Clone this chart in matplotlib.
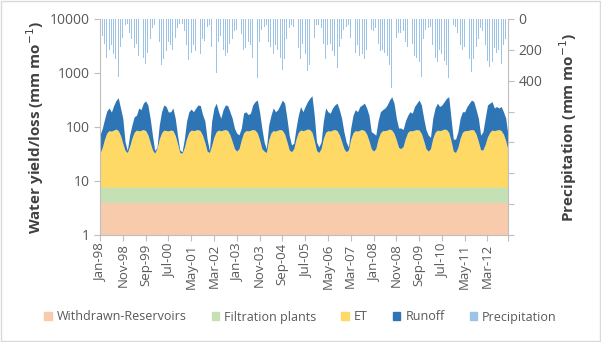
import numpy as np
import matplotlib
matplotlib.use("Agg")
import matplotlib.pyplot as plt
from matplotlib.patches import Patch, Rectangle

plt.rcParams['font.family'] = ['Open Sans', 'DejaVu Sans']

# ---------------- data (monthly, Jan-98 .. Dec-12) ----------------
months = ['Jan', 'Feb', 'Mar', 'Apr', 'May', 'Jun', 'Jul', 'Aug', 'Sep', 'Oct', 'Nov', 'Dec']
years = list(range(1998, 2013))
dates = [f"{m}-{str(y)[2:]}" for y in years for m in months]

withdrawn = [3.9] * 180
filtration = [3.8] * 180

et = [
    25, 34, 52, 70, 78, 76, 80, 84, 78, 62, 42, 29,   # 1998
    26, 36, 54, 72, 80, 77, 79, 82, 78, 64, 44, 30,   # 1999
    25, 32, 52, 70, 80, 78, 77, 80, 78, 62, 42, 26,   # 2000
    25, 34, 54, 72, 80, 78, 80, 82, 77, 62, 44, 28,   # 2001
    26, 38, 58, 74, 80, 77, 80, 82, 78, 64, 46, 32,   # 2002
    28, 32, 50, 70, 78, 77, 79, 82, 80, 70, 50, 32,   # 2003
    28, 26, 50, 70, 78, 76, 80, 82, 79, 66, 46, 30,   # 2004
    27, 32, 52, 72, 80, 78, 80, 84, 82, 72, 48, 29,   # 2005
    26, 32, 54, 72, 78, 76, 80, 82, 78, 64, 46, 32,   # 2006
    27, 30, 52, 70, 78, 76, 80, 82, 78, 66, 48, 32,   # 2007
    28, 32, 52, 70, 78, 78, 80, 84, 80, 68, 50, 34,   # 2008
    32, 36, 54, 72, 78, 77, 80, 82, 80, 68, 48, 32,   # 2009
    28, 32, 54, 72, 80, 78, 80, 84, 82, 72, 48, 28,   # 2010
    26, 34, 54, 72, 78, 78, 80, 82, 80, 66, 46, 30,   # 2011
    30, 40, 58, 72, 80, 78, 80, 82, 78, 66, 48, 30,   # 2012
]

runoff = [
    38, 53, 80, 122, 139, 106, 162, 218, 262, 155, 96, 16,    # 1998
    3, 27, 47, 75, 77, 140, 123, 187, 219, 184, 94, 33,       # 1999
    4, 2, 49, 114, 168, 154, 105, 104, 139, 76, 21, 4,        # 2000
    2, 18, 68, 112, 127, 106, 137, 166, 165, 100, 78, 24,     # 2001
    3, 84, 159, 195, 104, 61, 122, 166, 164, 120, 92, 55,     # 2002
    41, 32, 38, 104, 106, 85, 93, 166, 207, 238, 134, 56,     # 2003
    17, 6, 51, 87, 139, 108, 122, 166, 229, 203, 92, 33,      # 2004
    12, 10, 36, 85, 152, 106, 152, 203, 250, 300, 109, 16,    # 2005
    9, 13, 68, 145, 106, 96, 137, 166, 191, 138, 92, 42,      # 2006
    18, 5, 36, 87, 124, 108, 152, 166, 191, 151, 109, 42,     # 2007
    41, 31, 70, 114, 124, 139, 168, 224, 275, 201, 88, 54,    # 2008
    56, 46, 68, 85, 106, 95, 152, 187, 228, 180, 90, 50,      # 2009
    35, 25, 84, 145, 189, 154, 168, 203, 250, 283, 90, 24,    # 2010
    26, 40, 84, 112, 106, 154, 189, 226, 207, 136, 92, 33,    # 2011
    44, 98, 190, 197, 207, 139, 152, 135, 154, 118, 90, 33,   # 2012
]

precip = [
    70, 110, 160, 250, 200, 170, 230, 260, 375, 180, 120, 40,   # 1998
    30, 90, 130, 190, 160, 240, 180, 250, 290, 220, 130, 60,    # 1999
    40, 50, 150, 300, 260, 210, 150, 170, 200, 120, 60, 30,     # 2000
    30, 80, 170, 265, 220, 170, 210, 240, 230, 130, 140, 50,    # 2001
    40, 180, 260, 350, 150, 110, 200, 240, 220, 160, 130, 80,   # 2002
    70, 60, 100, 200, 190, 150, 170, 250, 270, 380, 150, 70,    # 2003
    50, 40, 150, 180, 230, 170, 200, 250, 330, 260, 130, 60,    # 2004
    40, 50, 120, 190, 260, 160, 230, 340, 300, 435, 120, 40,    # 2005
    40, 60, 160, 260, 170, 160, 210, 240, 320, 180, 130, 70,    # 2006
    50, 40, 120, 190, 220, 170, 240, 230, 260, 200, 150, 70,    # 2007
    80, 60, 160, 210, 200, 220, 240, 300, 445, 230, 120, 90,    # 2008
    90, 80, 150, 180, 200, 160, 240, 250, 280, 375, 130, 70,    # 2009
    60, 50, 170, 250, 280, 200, 230, 270, 300, 385, 120, 40,    # 2010
    50, 90, 170, 200, 180, 240, 260, 345, 260, 180, 130, 60,    # 2011
    80, 170, 270, 310, 280, 190, 220, 200, 290, 170, 130, 60,   # 2012
]

series_names = ['Withdrawn-Reservoirs', 'Filtration plants', 'ET', 'Runoff']
series_colors = ['#F8CBAD', '#C5E0B4', '#FFD966', '#2E75B6']
precip_color = '#9DC3E6'

left_ticks = [1, 10, 100, 1000, 10000]
right_ticks = [0, 200, 400, 600, 800, 1000, 1200, 1400]
right_labels = ['0', '200', '400', '', '', '', '', '']

# ---------------- figure ----------------
W, H = 601, 342
fig = plt.figure(figsize=(W / 100, H / 100), dpi=100)
ax = fig.add_axes([100 / W, 1 - 235 / H, 408 / W, 216 / H])

x = np.arange(len(dates))
layers = [np.array(withdrawn), np.array(filtration), np.array(et), np.array(runoff)]
cum = np.zeros(len(x))
for vals, c in zip(layers, series_colors):
    top = cum + vals
    ax.fill_between(x, np.maximum(cum, 0.5), top, color=c, lw=0, zorder=2)
    cum = top

ax.set_yscale('log')
ax.set_ylim(1, 10000)
ax.set_xlim(0, len(x) - 1)
ax.set_yticks(left_ticks)
ax.set_yticklabels([str(t) for t in left_ticks])
ax.yaxis.set_minor_locator(matplotlib.ticker.NullLocator())

tick_pos = list(range(0, len(x), 10)) + [len(x) - 1]
ax.set_xticks(tick_pos)
ax.set_xticklabels([dates[i] for i in range(0, len(x), 10)] + [''], rotation=90)

gray = '#595959'
axis_col = '#BFBFBF'
ax.tick_params(axis='both', colors=axis_col, labelcolor=gray, length=4, width=0.8)
ax.tick_params(axis='y', labelsize=10)
ax.tick_params(axis='x', labelsize=9.5, pad=2)
for s in ['top', 'right']:
    ax.spines[s].set_visible(False)
for s in ['left', 'bottom']:
    ax.spines[s].set_color(axis_col)
    ax.spines[s].set_linewidth(0.8)

ax.set_ylabel('Water yield/loss (mm mo$^{-1}$)', fontsize=11, fontweight='bold', color='#404040')
ax.yaxis.set_label_coords(-54 / 408, 0.5)

ax2 = ax.twinx()
ax2.bar(x, precip, width=0.4, color=precip_color, lw=0, zorder=1)
ax2.set_ylim(1400, 0)
ax2.set_xlim(0, len(x) - 1)
ax2.set_yticks(right_ticks)
ax2.set_yticklabels(right_labels)
ax2.tick_params(axis='y', colors=axis_col, labelcolor=gray, labelsize=10, length=4, width=0.8)
for s in ['top', 'left', 'bottom']:
    ax2.spines[s].set_visible(False)
ax2.spines['right'].set_color(axis_col)
ax2.spines['right'].set_linewidth(0.8)
ax2.set_ylabel('Precipitation (mm mo$^{-1}$)', fontsize=11, fontweight='bold', color='#404040')
ax2.yaxis.set_label_coords(1 + 49 / 408, 0.5)

handles = [Patch(color=c, label=n) for n, c in zip(series_names, series_colors)]
handles.append(Patch(color=precip_color, label='Precipitation'))
leg = fig.legend(handles=handles, loc='center', bbox_to_anchor=(0.5, 1 - 317 / H), ncol=5,
                 frameon=False, fontsize=9, handlelength=0.6, handleheight=0.6,
                 handletextpad=0.4, columnspacing=2.0)
for t in leg.get_texts():
    t.set_color(gray)

fig.patches.append(Rectangle((0.002, 0.003), 0.996, 0.994, transform=fig.transFigure,
                             fill=False, edgecolor='#D9D9D9', lw=1))

fig.savefig('out.png', dpi=100)
